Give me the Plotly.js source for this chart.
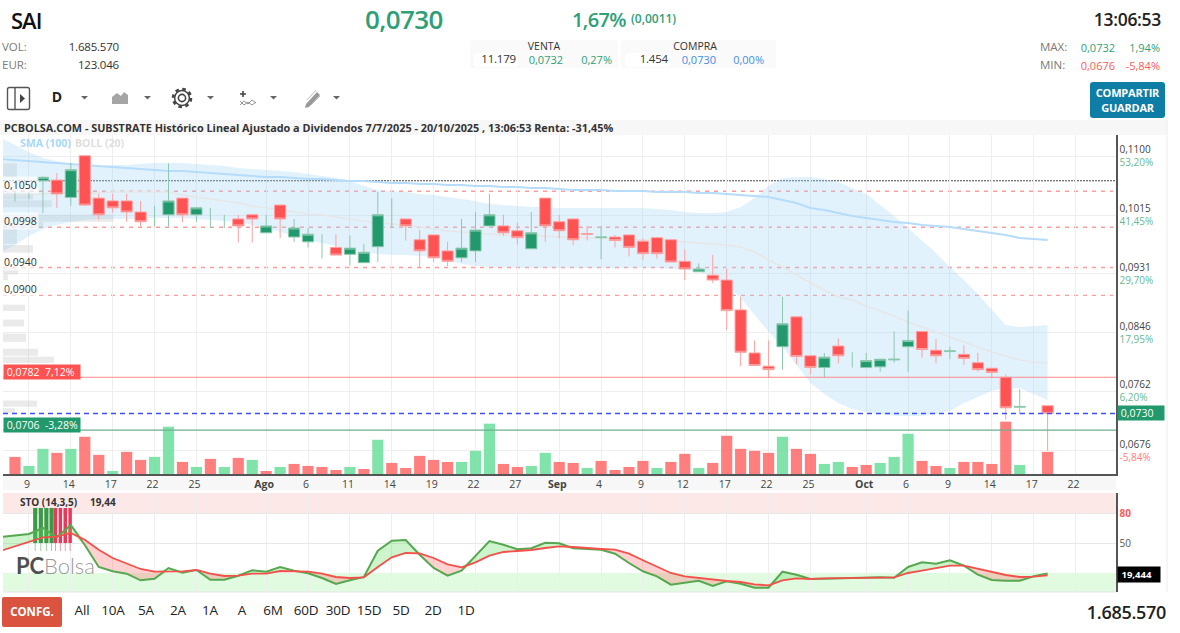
<!DOCTYPE html>
<html lang="es"><head><meta charset="utf-8">
<script src="https://cdn.plot.ly/plotly-3.0.1.min.js"></script>
<style>
html,body{margin:0;padding:0;background:#fff;width:1180px;height:633px;overflow:hidden;font-family:"Open Sans",sans-serif}
#chart{position:absolute;left:0;top:0;width:1180px;height:633px}
.t{position:absolute;white-space:nowrap;line-height:1;transform:translateY(-50%)}
.r{transform:translate(-100%,-50%)}.c{transform:translate(-50%,-50%)}
.box{position:absolute;background:#fafafa;border-radius:3px}
.g{color:#2e9f78}.gr{color:#7a7a7a}.d{color:#333}.b{color:#3f8fe8}.re{color:#ff5a5a}
svg.i{position:absolute}
</style></head><body>
<div id="chart"></div>
<div id="ui" style="position:absolute;left:0;top:0;width:1180px;height:633px;pointer-events:none"></div>
<script>
// ---------- categories / ticks ----------
const dayIndex = Array.from({length:75},(_,i)=>i);
const indicatorIndex = Array.from({length:76},(_,i)=>i-1);
const dateTickIndex = [1,4,7,10,13,18,21,24,27,30,33,36,39,42,45,48,51,54,57,61,64,67,70,73,76];
const dateTickLabels = ['9','14','17','22','25','<b>Ago</b>','6','11','14','19','22','27','<b>Sep</b>','4','9','12','17','22','25','<b>Oct</b>','6','9','14','17','22'];
const priceTicks = [0.1100,0.1015,0.0931,0.0846,0.0762,0.0676];
const priceTickLabels = ['0,1100','0,1015','0,0931','0,0846','0,0762','0,0676'];
const pctTickLabels = ['53,20%','41,45%','29,70%','17,95%','6,20%','-5,84%'];
// ---------- candles (null = no candle / no body drawn) ----------
const openP = [null,null,.1065,.1066,.1041,.1101,.1040,.1036,.1036,.1020,null,.1016,.1040,.1016,null,null,.1010,.1016,.0990,.1030,.0984,.0977,null,.0969,.0959,.0947,.0970,null,.1010,.0980,.0987,.0964,.0954,.0964,.1000,.1000,.0993,.0967,.1040,.1006,.1010,.0989,.0983,.0984,.0987,.0978,.0983,.0980,.0949,.0934,.0929,.0922,.0879,.0817,.0798,.0826,.0869,.0813,.0796,.0827,null,.0796,.0797,.0807,.0826,.0848,.0821,.0819,.0815,.0803,.0795,.0782,.0739,null,.0741];
const highP = [.1049,.1049,.1071,.1076,.1091,.1101,.1046,.1046,.1046,.1036,.1029,.1090,.1040,.1026,.1026,.1016,.1016,.1016,.1016,.1030,.1010,.0997,.0988,.0988,.0986,.0974,.1049,.1040,.1010,.0994,.0987,.0977,.1010,.1020,.1046,.1016,.1005,.1020,.1040,.1016,.1010,.1000,.1000,.0987,.0987,.0982,.0983,.0980,.0966,.0946,.0958,.0938,.0898,.0835,.0835,.0898,.0869,.0813,.0817,.0838,.0818,.0817,.0808,.0848,.0878,.0848,.0837,.0826,.0828,.0817,.0795,.0786,.0765,null,.0741];
const lowP = [.1035,.1039,.1019,.1026,.1029,.1029,.1009,.1019,.1006,.0999,.0999,.0999,.1005,.1006,.0997,.0997,.0976,.0976,.0990,.0982,.0977,.0969,.0953,.0958,.0943,.0947,.0948,.0997,.0979,.0939,.0948,.0942,.0948,.0948,.1000,.0986,.0973,.0967,.0977,.0982,.0972,.0979,.0952,.0969,.0956,.0951,.0953,.0948,.0922,.0934,.0918,.0850,.0798,.0799,.0781,.0793,.0801,.0786,.0781,.0802,.0796,.0795,.0790,.0803,.0790,.0810,.0802,.0808,.0800,.0790,.0781,.0721,.0729,null,.0676];
const closeP = [null,null,.1070,.1046,.1081,.1030,.1016,.1026,.1020,.1006,null,.1036,.1016,.1026,null,null,.1000,.1010,.1000,.1010,.0997,.0988,null,.0958,.0968,.0962,.1016,null,.1000,.0964,.0954,.0949,.0968,.0994,.1016,.0990,.0983,.0990,.1000,.0993,.0980,.0988,.0984,.0979,.0969,.0960,.0960,.0948,.0938,.0938,.0922,.0878,.0818,.0799,.0793,.0859,.0812,.0796,.0811,.0813,null,.0806,.0808,.0808,.0835,.0822,.0813,.0820,.0809,.0793,.0789,.0738,.0740,null,.0730];
// ---------- volume (thousands of shares) ----------
const volumeK = [1302,613,1915,1609,1915,2834,1455,230,1685,1072,1302,3600,919,536,1149,536,1226,1072,230,536,766,613,536,306,536,383,2604,843,460,1379,1072,919,919,1762,3830,766,536,613,1609,919,843,460,996,306,536,996,460,919,1532,460,843,2911,1915,1762,1609,2834,1915,1532,766,919,536,689,843,1302,3064,996,613,460,919,919,766,3983,689,null,1686];
const volumeUp = [0,1,1,0,1,0,0,1,0,0,1,1,0,1,0,1,0,1,0,1,0,0,0,0,1,0,1,0,0,0,0,0,1,1,1,0,0,1,1,0,0,1,0,0,0,0,1,0,0,1,0,0,0,0,0,1,0,0,1,1,0,0,1,1,1,0,0,1,0,0,0,0,1,0,0];
// ---------- Bollinger (20) and SMA (100), first value is the day before the window ----------
const bollUpper = [.11266,.11165,.11064,.10978,.10935,.10891,.10863,.10863,.10877,.10877,.10891,.10906,.10906,.10906,.10891,.10877,.10863,.10834,.10820,.10805,.10791,.10776,.10748,.10719,.10690,.10647,.10575,.10517,.10503,.10488,.10460,.10445,.10416,.10388,.10359,.10316,.10301,.10287,.10272,.10272,.10258,.10258,.10258,.10258,.10258,.10258,.10258,.10243,.10229,.10200,.10186,.10186,.10200,.10272,.10402,.10575,.10690,.10704,.10704,.10676,.10633,.10546,.10460,.10301,.10143,.09970,.09797,.09610,.09408,.09221,.09019,.08789,.08573,.08544,.08559,.08573];
const bollLower = [.09624,.09725,.09855,.09955,.10013,.10056,.10085,.10099,.10099,.10099,.10099,.10114,.10114,.10114,.10099,.10085,.10070,.10056,.10013,.09970,.09912,.09855,.09797,.09754,.09710,.09653,.09624,.09595,.09581,.09581,.09566,.09552,.09495,.09451,.09422,.09408,.09408,.09394,.09394,.09394,.09394,.09394,.09394,.09394,.09394,.09394,.09394,.09394,.09379,.09365,.09351,.09264,.09149,.08962,.08717,.08472,.08256,.07997,.07738,.07579,.07450,.07363,.07320,.07291,.07262,.07262,.07262,.07291,.07334,.07450,.07536,.07623,.07666,.07666,.07579,.07493];
const bollMid = [.10445,.10445,.10460,.10460,.10474,.10474,.10474,.10474,.10488,.10488,.10488,.10488,.10488,.10445,.10416,.10388,.10359,.10330,.10287,.10258,.10229,.10200,.10171,.10157,.10128,.10099,.10070,.10042,.10027,.10013,.09984,.09955,.09926,.09912,.09898,.09883,.09869,.09855,.09855,.09855,.09840,.09840,.09826,.09826,.09811,.09811,.09797,.09797,.09782,.09768,.09754,.09739,.09725,.09696,.09624,.09509,.09408,.09293,.09178,.09077,.08976,.08933,.08846,.08774,.08702,.08616,.08544,.08472,.08400,.08328,.08256,.08184,.08127,.08069,.08040,.08026];
const sma100 = [.10963,.10949,.10935,.10920,.10906,.10891,.10877,.10863,.10848,.10834,.10820,.10805,.10791,.10791,.10776,.10762,.10748,.10733,.10719,.10704,.10704,.10690,.10676,.10676,.10661,.10647,.10647,.10633,.10618,.10618,.10604,.10604,.10589,.10589,.10575,.10575,.10561,.10561,.10546,.10546,.10532,.10517,.10517,.10517,.10503,.10503,.10503,.10488,.10488,.10488,.10474,.10474,.10460,.10445,.10431,.10416,.10373,.10330,.10258,.10229,.10186,.10143,.10114,.10085,.10056,.10042,.10013,.09998,.09984,.09955,.09926,.09898,.09869,.09826,.09811,.09797];
// ---------- price levels ----------
const supportLevels = [.1050,.0998,.0940,.0900];
const supportLabels = ['0,1050','0,0998','0,0940','0,0900'];
const yearHigh = .1065, lastPrice = .0730, sessionHigh = .0782, sessionLow = .0706;
// ---------- volume profile ----------
const profilePrice = [.1080,.1043,.1032,.1011,.1001,.0991,.0980,.0967,.0935,.0926,.0882,.0860,.0839,.0818,.0807,.0744,.0734];
const profileSize = [1.0,2.15,3.5,7.9,2.9,1.0,1.0,2.15,1.07,.36,1.58,1.5,1.65,2.5,3.65,2.44,.86];
const profileThick = [.0020,.0010,.0010,.0010,.0009,.0010,.0012,.0011,.0010,.0008,.0009,.0010,.0012,.0010,.0009,.0009,.0007];
// ---------- stochastic (14,3,5) ----------
const stoK = [56,57.7,59,65,55.7,68,48,26,21.7,19.3,12.7,14.3,25,20.3,23,13.3,13.3,17.3,22.7,21.3,26,22.3,19.7,15,9,12.7,16,42.3,52.3,53,38.3,25,17.3,22.3,37.7,52,48.3,43.7,44.7,50.3,49.7,44.7,44,43.3,39.3,30,21.7,16.7,8.3,10,12.3,7,11.7,9.3,5.3,5.3,21.3,18.3,14,14.3,14.7,14.7,15,15.7,15.3,26,30.7,29.3,32.7,27.3,18.3,13,12.3,12.3,16.7,19.44];
const stoD = [42.3,46.7,51,55.7,56.3,60,53.3,43.3,35,29.3,24,21.3,21.7,21.7,23,19.3,17,17.3,19.3,19.3,22,22,21.3,19.3,16,15,15.7,26,35.7,40,39.7,35,28.7,25.7,30.7,37.3,41,42,43,45,46.7,46,44.7,44,43.3,39.3,32.7,26,20,16.7,15,13,12,11,8.7,7.7,12.7,14.7,14,14.7,14.7,14.7,15,15.3,15.7,20,22.3,25,27.3,27.3,24,21,18,16,16.3,17.7];
const stoTicks = [80,50];
const pressureUpIndex = [1.45,1.85,2.25,2.62];
const pressureDownIndex = [2.9,3.25,3.6,3.95];

// ---------- page scale helpers (layout only) ----------
const W=1180,H=633, fy=y=>1-y/H;
const up=volumeUp.map(v=>v?'rgba(105,222,155,.85)':'rgba(255,105,105,.85)');
const wickX=[],wickY=[];
dayIndex.forEach(i=>{ if(openP[i]===null && highP[i]!==null){wickX.push(i,i,null);wickY.push(lowP[i],highP[i],null);} });
const kTop=stoK.map((k,i)=>Math.max(k,stoD[i])), kLow=stoK.map((k,i)=>Math.min(k,stoD[i]));
const GREEN='#21996c', RED='#ff5252';
const traces=[
 {type:'bar',orientation:'h',x:profileSize,y:profilePrice,width:profileThick,base:-0.86,marker:{color:'rgba(205,205,205,.42)'},xaxis:'x',yaxis:'y'},
 {type:'scatter',mode:'lines',x:indicatorIndex,y:bollLower,line:{width:0,color:'rgba(0,0,0,0)'},xaxis:'x',yaxis:'y'},
 {type:'scatter',mode:'lines',x:indicatorIndex,y:bollUpper,fill:'tonexty',fillcolor:'rgba(160,213,248,.3)',line:{width:0,color:'rgba(0,0,0,0)'},xaxis:'x',yaxis:'y'},
 {type:'scatter',mode:'lines',x:indicatorIndex,y:bollMid,line:{width:1.5,color:'#e6e6e6'},xaxis:'x',yaxis:'y'},
 {type:'scatter',mode:'lines',x:indicatorIndex,y:sma100,line:{width:2,color:'#b5dcfa'},xaxis:'x',yaxis:'y'},
 {type:'scatter',mode:'lines',x:wickX,y:wickY,line:{width:1,color:'#8cc9ae'},xaxis:'x',yaxis:'y3',connectgaps:false},
 {type:'candlestick',x:dayIndex,open:openP,high:highP,low:lowP,close:closeP,whiskerwidth:0,
  increasing:{fillcolor:GREEN,line:{color:'#8cc9ae',width:1}},decreasing:{fillcolor:RED,line:{color:'#ffa0a0',width:1}},xaxis:'x',yaxis:'y3'},
 {type:'bar',x:dayIndex,y:volumeK,width:.8,marker:{color:up},xaxis:'x',yaxis:'y4'},
 {type:'bar',x:pressureUpIndex,y:pressureUpIndex.map(()=>35),base:50,width:.3,marker:{color:'#3a9b46'},xaxis:'x2',yaxis:'y2'},
 {type:'bar',x:pressureDownIndex,y:pressureDownIndex.map(()=>35),base:50,width:.25,marker:{color:'#e8395a'},xaxis:'x2',yaxis:'y2'},
 {type:'bar',x:pressureUpIndex,y:pressureUpIndex.map(()=>8),base:42,width:.07,marker:{color:'rgba(58,155,70,.5)'},xaxis:'x2',yaxis:'y2'},
 {type:'bar',x:pressureDownIndex,y:pressureDownIndex.map(()=>8),base:42,width:.07,marker:{color:'rgba(232,57,90,.5)'},xaxis:'x2',yaxis:'y2'},
 {type:'scatter',mode:'lines',x:indicatorIndex,y:kLow,line:{width:0,color:'rgba(0,0,0,0)'},xaxis:'x2',yaxis:'y2'},
 {type:'scatter',mode:'lines',x:indicatorIndex,y:stoD,fill:'tonexty',fillcolor:'rgba(255,90,90,.28)',line:{width:0,color:'rgba(0,0,0,0)'},xaxis:'x2',yaxis:'y2'},
 {type:'scatter',mode:'lines',x:indicatorIndex,y:stoD,line:{width:0,color:'rgba(0,0,0,0)'},xaxis:'x2',yaxis:'y2'},
 {type:'scatter',mode:'lines',x:indicatorIndex,y:kTop,fill:'tonexty',fillcolor:'rgba(90,220,90,.3)',line:{width:0,color:'rgba(0,0,0,0)'},xaxis:'x2',yaxis:'y2'},
 {type:'scatter',mode:'lines',x:indicatorIndex,y:stoK,line:{width:2,color:'#55a84f'},xaxis:'x2',yaxis:'y2'},
 {type:'scatter',mode:'lines',x:indicatorIndex,y:stoD,line:{width:1.8,color:'#f4504a'},xaxis:'x2',yaxis:'y2'},
];
const xRange=[-0.86,78.9], dom=[3/W,1116/W];
const shapes=[
 {type:'rect',xref:'paper',yref:'paper',x0:0,x1:1167/W,y0:fy(135),y1:fy(120),fillcolor:'#f7f7f7',line:{width:0},layer:'below'},
 {type:'rect',xref:'paper',yref:'paper',x0:dom[0],x1:dom[1],y0:fy(490),y1:fy(474),fillcolor:'#f7f7f7',line:{width:0},layer:'below'},
 {type:'rect',xref:'x2',yref:'y2',x0:xRange[0],x1:xRange[1],y0:80,y1:100,fillcolor:'#fde8e8',line:{width:0},layer:'below'},
 {type:'rect',xref:'x2',yref:'y2',x0:xRange[0],x1:xRange[1],y0:1,y1:20,fillcolor:'#e1fbe1',line:{width:0},layer:'below'},
 {type:'line',xref:'paper',yref:'paper',x0:1167/W,x1:1167/W,y0:fy(592),y1:fy(120),line:{width:1,color:'#ececec'}},
 {type:'line',xref:'paper',yref:'paper',x0:dom[0],x1:dom[1],y0:fy(592),y1:fy(592),line:{width:1,color:'#e4e4e4'}},
];
supportLevels.forEach(v=>shapes.push({type:'line',xref:'paper',yref:'y',x0:dom[0],x1:1113/W,y0:v,y1:v,line:{width:1.4,color:'#ff9c9c',dash:'4px,5px'},layer:'below'}));
shapes.push({type:'line',xref:'paper',yref:'y',x0:dom[0],x1:dom[1],y0:yearHigh,y1:yearHigh,line:{width:1,color:'#444',dash:'2px,1px'},layer:'below'});
shapes.push({type:'line',xref:'paper',yref:'y',x0:dom[0],x1:dom[1],y0:lastPrice,y1:lastPrice,line:{width:1.5,color:'#3f4ff5',dash:'5px,4px'}});
shapes.push({type:'line',xref:'paper',yref:'y',x0:dom[0],x1:dom[1],y0:sessionHigh,y1:sessionHigh,line:{width:1.2,color:'#ff8a8a'}});
shapes.push({type:'line',xref:'paper',yref:'y',x0:dom[0],x1:dom[1],y0:sessionLow,y1:sessionLow,line:{width:1.2,color:'#6fae90'}});
const F='"Open Sans",sans-serif';
const ann=[
 {xref:'paper',yref:'paper',x:2/W,y:fy(127),xanchor:'left',yanchor:'middle',showarrow:false,font:{family:F,size:10.85,color:'#333'},text:'<b>PCBOLSA.COM - SUBSTRATE Histórico Lineal Ajustado a Dividendos 7/7/2025 - 20/10/2025 , 13:06:53 Renta: -31,45%</b>'},
 {xref:'paper',yref:'paper',x:18/W,y:fy(143),xanchor:'left',yanchor:'middle',showarrow:false,font:{family:F,size:10.5,color:'#a8d8fb'},text:'<b>SMA (100)</b>'},
 {xref:'paper',yref:'paper',x:73/W,y:fy(143),xanchor:'left',yanchor:'middle',showarrow:false,font:{family:F,size:10.5,color:'#dedede'},text:'<b>BOLL (20)</b>'},
 {xref:'paper',yref:'paper',x:3/W,y:fy(371.5),xanchor:'left',yanchor:'middle',showarrow:false,font:{family:F,size:10.5,color:'#fff'},bgcolor:'#ff5252',borderpad:0,text:'&nbsp;0,0782  7,12%&nbsp;&nbsp;'},
 {xref:'paper',yref:'paper',x:3/W,y:fy(424.5),xanchor:'left',yanchor:'middle',showarrow:false,font:{family:F,size:10.5,color:'#fff'},bgcolor:'#21996c',borderpad:0,text:'&nbsp;0,0706  -3,28%&nbsp;'},
 {xref:'paper',yref:'y',x:1117/W,y:lastPrice,xanchor:'left',yanchor:'middle',showarrow:false,font:{family:F,size:10.5,color:'#fff'},bgcolor:'#21996c',borderpad:0,text:'&nbsp;0,0730&nbsp;&nbsp;&nbsp;&nbsp;'},
 {xref:'paper',yref:'paper',x:1117/W,y:fy(574.5),xanchor:'left',yanchor:'middle',showarrow:false,font:{family:F,size:9.5,color:'#fff'},bgcolor:'#000',borderpad:1,text:'&nbsp;<b>19,444</b>&nbsp;&nbsp;&nbsp;'},
 {xref:'paper',yref:'paper',x:18/W,y:fy(502),xanchor:'left',yanchor:'middle',showarrow:false,font:{family:F,size:10,color:'#333'},text:'<b>STO (14,3,5)</b>'},
 {xref:'paper',yref:'paper',x:88/W,y:fy(502),xanchor:'left',yanchor:'middle',showarrow:false,font:{family:F,size:10,color:'#333'},text:'<b>19,44</b>'},
 {xref:'paper',yref:'paper',x:14/W,y:fy(565),xanchor:'left',yanchor:'middle',showarrow:false,font:{family:'Lato,sans-serif',size:22,color:'#4f4f4f',weight:700},text:'PC'},
 {xref:'paper',yref:'paper',x:42/W,y:fy(565),xanchor:'left',yanchor:'middle',showarrow:false,font:{family:'Lato,sans-serif',size:22,color:'#999',weight:300},text:'Bolsa'},
];
supportLevels.forEach((v,i)=>ann.push({xref:'paper',yref:'y',x:2/W,y:v,xanchor:'left',yanchor:'bottom',yshift:-3,showarrow:false,font:{family:F,size:10.5,color:'#333'},bgcolor:'rgba(255,255,255,.65)',text:supportLabels[i]}));
const layout={width:W,height:H,margin:{l:0,r:0,t:0,b:0},paper_bgcolor:'#fff',plot_bgcolor:'#fff',showlegend:false,barmode:'overlay',boxgap:.2,boxgroupgap:0,hovermode:false,dragmode:false,
 xaxis:{domain:dom,range:xRange,anchor:'y',tickmode:'array',tickvals:dateTickIndex,ticktext:dateTickLabels,ticklabelshift:-2,ticks:'',showgrid:true,gridcolor:'#eeeeee',gridwidth:1,showline:true,linecolor:'#555',linewidth:1.5,zeroline:false,tickfont:{family:F,size:10.5,color:'#444'},rangeslider:{visible:false}},
 xaxis2:{domain:dom,range:xRange,anchor:'y2',tickmode:'array',tickvals:dateTickIndex,showticklabels:false,ticks:'',showgrid:true,gridcolor:'#eeeeee',zeroline:false,showline:false},
 yaxis:{domain:[fy(474),fy(135)],range:[.06427,.11309],side:'right',anchor:'x',tickmode:'array',tickvals:priceTicks,
  ticktext:priceTicks.map((v,i)=>`${priceTickLabels[i]}<br><span style="color:${pctTickLabels[i][0]==='-'?'#ff7d7d':'#66b993'}">${pctTickLabels[i]}</span>`),
  ticks:'',showgrid:true,gridcolor:'#eeeeee',zeroline:false,showline:true,linecolor:'#555',linewidth:1.5,tickfont:{family:F,size:10,color:'#444'}},
 yaxis2:{domain:[fy(592),fy(493)],range:[1,100],side:'right',anchor:'x2',tickmode:'array',tickvals:stoTicks,ticktext:['<b><span style="color:#ff5a5a">80</span></b>','50'],ticks:'',showgrid:true,gridcolor:'#e8e8e8',zeroline:false,showline:true,linecolor:'#555',linewidth:1.5,tickfont:{family:F,size:10,color:'#555'}},
 yaxis3:{overlaying:'y',range:[.06427,.11309],side:'right',showgrid:false,showticklabels:false,zeroline:false,ticks:'',anchor:'x'},
 yaxis4:{overlaying:'y',range:[0,25800],side:'right',showgrid:false,showticklabels:false,zeroline:false,ticks:'',anchor:'x'},
 shapes,annotations:ann};
Plotly.newPlot('chart',traces,layout,{staticPlot:true,displayModeBar:false});

// ---------- page header / toolbar / footer ----------
const ui=document.getElementById('ui');
function T(txt,x,y,size,cls,extra,al){const d=document.createElement('div');d.className='t '+(al||'')+' '+(cls||'');d.style.cssText=`left:${x}px;top:${y}px;font-size:${size}px;${extra||''}`;d.textContent=txt;ui.appendChild(d);}
function B(x,y,w,h,c){const d=document.createElement('div');d.className='box';d.style.cssText=`left:${x}px;top:${y}px;width:${w}px;height:${h}px;${c?'background:'+c:''}`;ui.appendChild(d);return d;}
B(470,40,148,28);B(621,40,155,28);
B(474,53,44,14,'#fff');B(625,53,46,14,'#fff');
T('SAI',11,20,22,'','font-weight:600;color:#111;letter-spacing:-1px');
T('0,0730',365,19,26,'g','font-weight:600;letter-spacing:-.6px');
T('1,67%',572,20,20,'g','font-weight:600;letter-spacing:-.6px');
T('(0,0011)',631,19,12,'g','font-weight:600');
T('13:06:53',1161,20,17.5,'','font-weight:600;color:#222;letter-spacing:-.3px','r');
T('VOL:',2,47,11.5,'gr');T('1.685.570',119,47,11.5,'d','letter-spacing:-.2px','r');
T('EUR:',2,65,11.5,'gr');T('123.046',119,65,11.5,'d','letter-spacing:-.2px','r');
T('VENTA',544,46,10.5,'','color:#333','c');T('COMPRA',695,46,10.5,'','color:#333','c');
T('11.179',516,59,11.5,'d','letter-spacing:-.2px','r');T('0,0732',563,59,11,'g','','r');T('0,27%',612,59,11,'g','','r');
T('1.454',668,59,11.5,'d','letter-spacing:-.2px','r');T('0,0730',716,59,11,'b','','r');T('0,00%',764,59,11,'b','','r');
T('MAX:',1040,47,11.5,'gr');T('0,0732',1115,47,11,'g','','r');T('1,94%',1160,47,11,'g','','r');
T('MIN:',1040,65,11.5,'gr');T('0,0676',1115,65,11,'re','','r');T('-5,84%',1160,65,11,'re','','r');
const btn=B(1090,82,75,36,'#0f7ea6');
btn.style.borderRadius='3px';
T('COMPARTIR',1127.5,92,11,'','color:#fff;font-weight:700;letter-spacing:-.2px','c');T('GUARDAR',1127.5,107,11,'','color:#fff;font-weight:700;letter-spacing:-.2px','c');
T('D',57,97,14,'','font-weight:700;color:#222','c');
const icons=`<svg class="i" width="1180" height="120" style="left:0;top:0">
<rect x="7.5" y="87.500" width="22" height="22" rx="2" fill="none" stroke="#555" stroke-width="1.4"/><line x1="15" y1="88" x2="15" y2="109" stroke="#555" stroke-width="1.4"/><path d="M20 94l5 4.500-5 4.500z" fill="#444"/>
<path d="M112 104v-7l5-4 4 3 3-4 4 3v9z" fill="#a5a5a5"/>
<g fill="none" stroke="#444"><circle cx="182" cy="98" r="3.600" stroke-width="1.6"/><circle cx="182" cy="98" r="7.400" stroke-width="1.5"/><circle cx="182" cy="98" r="9" stroke-width="2.600" stroke-dasharray="3.500 3.570"/></g>
<path d="M240 94h6M243 91v6" stroke="#444" stroke-width="1.6"/><path d="M240 105l4-4 4 3 4-4 4 3M240 101l4 4 4-3 4 3 4-3" fill="none" stroke="#888" stroke-width=".9"/>
<path d="M306 104l11-12 3 3-11 12-4 1z" fill="#999"/><path d="M307 100l9-10M311 105l9-9" stroke="#bbb"/>
<g fill="#666"><path d="M81 96h7l-3.500 3.500z"/><path d="M144 96h7l-3.500 3.500z"/><path d="M207 96h7l-3.500 3.500z"/><path d="M270 96h7l-3.500 3.500z"/><path d="M333 96h7l-3.500 3.500z"/></g></svg>`;
ui.insertAdjacentHTML('beforeend',icons);
const cf=B(2,597,60,30,'#d9533f');cf.style.borderRadius='2px';
T('CONFG.',32,612,11.5,'','color:#fff;font-weight:700','c');
const rangeLabels=['All','10A','5A','2A','1A','A','6M','60D','30D','15D','5D','2D','1D'];
const rangeCenters=[82,113,146,178,210,242,273,306,338,369,401,433,466];
rangeLabels.forEach((l,i)=>T(l,rangeCenters[i],611,13.5,'','color:#222;letter-spacing:-.2px','c'));
T('1.685.570',1166,612,18,'','font-weight:600;color:#222;letter-spacing:-.3px','r');
</script></body></html>
